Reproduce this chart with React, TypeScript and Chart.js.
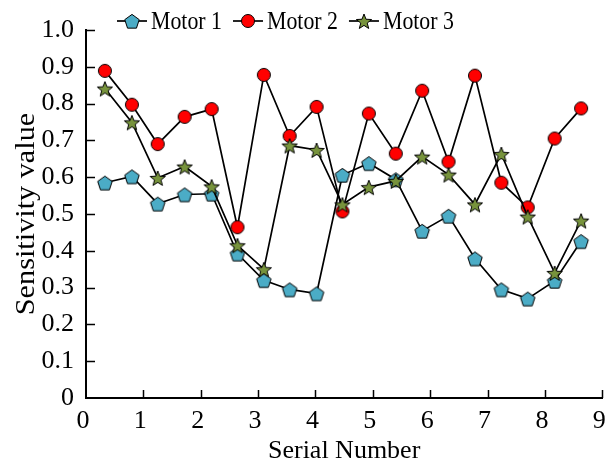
import React, { useEffect, useRef } from 'react';
import { Chart, registerables } from 'chart.js';

Chart.register(...registerables);

const FONT = "'Liberation Serif', 'Times New Roman', serif";

const seriesNames = ['Motor 1', 'Motor 2', 'Motor 3'];
const serialX = [0.33, 0.8, 1.25, 1.72, 2.19, 2.64, 3.1, 3.55, 4.02, 4.47, 4.93, 5.4, 5.86, 6.32, 6.78, 7.24, 7.7, 8.17, 8.63];
const motor1 = [0.585, 0.602, 0.528, 0.553, 0.555, 0.392, 0.32, 0.295, 0.284, 0.606, 0.638, 0.594, 0.454, 0.495, 0.379, 0.295, 0.27, 0.318, 0.426];
const motor2 = [0.889, 0.797, 0.69, 0.764, 0.785, 0.464, 0.878, 0.712, 0.791, 0.507, 0.773, 0.664, 0.835, 0.642, 0.876, 0.585, 0.518, 0.705, 0.787];
const motor3 = [0.841, 0.749, 0.598, 0.629, 0.575, 0.415, 0.35, 0.686, 0.674, 0.526, 0.573, 0.59, 0.656, 0.607, 0.526, 0.663, 0.493, 0.34, 0.482];
const xTickValues = [0, 1, 2, 3, 4, 5, 6, 7, 8, 9];
const yTickValues = [0, 0.1, 0.2, 0.3, 0.4, 0.5, 0.6, 0.7, 0.8, 0.9, 1.0];
const xTitle = 'Serial Number';
const yTitle = 'Sensitivity value';

const markerColors = ['#4bacc6', '#ff0000', '#77933c'];
const markerKinds = ['pentagon', 'circle', 'star'];

function makeMarker(kind: string, fill: string): HTMLCanvasElement {
  const c = document.createElement('canvas');
  const size = 20;
  c.width = size;
  c.height = size;
  const g = c.getContext('2d')!;
  const cx = size / 2;
  const cy = size / 2;
  g.beginPath();
  if (kind === 'circle') {
    g.arc(cx, cy, 6.5, 0, Math.PI * 2);
  } else if (kind === 'pentagon') {
    for (let k = 0; k < 5; k++) {
      const a = -Math.PI / 2 + (k * 2 * Math.PI) / 5;
      const px = cx + 7.6 * Math.cos(a);
      const py = cy + 1 + 7.6 * Math.sin(a);
      if (k === 0) g.moveTo(px, py);
      else g.lineTo(px, py);
    }
  } else {
    for (let k = 0; k < 10; k++) {
      const r = k % 2 === 0 ? 8 : 3.4;
      const a = -Math.PI / 2 + (k * Math.PI) / 5;
      const px = cx + r * Math.cos(a);
      const py = cy + 1 + r * Math.sin(a);
      if (k === 0) g.moveTo(px, py);
      else g.lineTo(px, py);
    }
  }
  g.closePath();
  g.fillStyle = fill;
  g.fill();
  g.lineWidth = 1;
  g.strokeStyle = '#000';
  g.stroke();
  return c;
}

export default function App() {
  const ref = useRef<HTMLCanvasElement>(null);

  useEffect(() => {
    document.body.style.margin = '0';
    const canvas = ref.current!;
    const markers = markerKinds.map((k, i) => makeMarker(k, markerColors[i]));
    const seriesValues = [motor1, motor2, motor3];

    const datasets = seriesNames.map((name, i) => ({
      label: name,
      data: serialX.map((x, j) => ({ x, y: seriesValues[i][j] })),
      borderColor: '#000',
      backgroundColor: markerColors[i],
      borderWidth: 1.7,
      pointStyle: markers[i] as any,
      pointRadius: 6,
      tension: 0,
      fill: false,
      order: 3 - i,
    }));

    const decorPlugin = {
      id: 'decor',
      afterDraw(chart: any) {
        const ctx = chart.ctx as CanvasRenderingContext2D;
        const xs = chart.scales.x;
        const ys = chart.scales.y;
        const area = chart.chartArea;
        ctx.save();
        // inward tick marks
        ctx.strokeStyle = '#000';
        ctx.lineWidth = 1.5;
        ctx.beginPath();
        xTickValues.forEach((v) => {
          if (v === 0) return;
          const px = Math.round(xs.getPixelForValue(v)) + 0.5;
          ctx.moveTo(px, area.bottom);
          ctx.lineTo(px, area.bottom - 8);
        });
        yTickValues.forEach((v) => {
          if (v === 0) return;
          const py = Math.round(ys.getPixelForValue(v)) + 0.5;
          ctx.moveTo(area.left, py);
          ctx.lineTo(area.left + 9, py);
        });
        ctx.stroke();

        // legend (condensed serif text)
        const hx = 0.84;
        ctx.font = `26px ${FONT}`;
        ctx.textBaseline = 'alphabetic';
        ctx.textAlign = 'left';
        ctx.fillStyle = '#000';
        let lx = area.left + 31;
        const ly = 21;
        seriesNames.forEach((name, i) => {
          ctx.beginPath();
          ctx.moveTo(lx, ly);
          ctx.lineTo(lx + 30, ly);
          ctx.lineWidth = 1.7;
          ctx.strokeStyle = '#000';
          ctx.stroke();
          const m = markers[i];
          ctx.drawImage(m, lx + 15 - m.width / 2, ly - m.height / 2);
          const tx = lx + 34;
          ctx.save();
          ctx.translate(tx, 29);
          ctx.scale(hx, 1);
          ctx.fillText(name, 0, 0);
          ctx.restore();
          lx = tx + ctx.measureText(name).width * hx + 11;
        });

        // x title
        ctx.font = `26px ${FONT}`;
        ctx.textAlign = 'center';
        ctx.fillText(xTitle, (area.left + area.right) / 2, 458);

        // y title
        ctx.save();
        ctx.translate(34, (area.top + area.bottom) / 2);
        ctx.rotate(-Math.PI / 2);
        ctx.scale(1.12, 1);
        ctx.font = `27px ${FONT}`;
        ctx.textAlign = 'center';
        ctx.textBaseline = 'alphabetic';
        ctx.fillText(yTitle, 0, 0);
        ctx.restore();

        ctx.restore();
      },
    };

    const chart = new Chart(canvas, {
      type: 'line',
      data: { datasets: datasets as any },
      options: {
        animation: false,
        responsive: false,
        layout: { padding: { top: 30, right: 7, left: 0, bottom: 0 } },
        plugins: {
          legend: { display: false },
          tooltip: { enabled: false },
        },
        scales: {
          x: {
            type: 'linear',
            min: 0,
            max: 9,
            afterBuildTicks: (s: any) => {
              s.ticks = xTickValues.map((v) => ({ value: v }));
            },
            afterFit: (s: any) => {
              s.height = 64;
            },
            ticks: {
              color: '#000',
              font: { family: FONT, size: 26 },
              padding: 0,
              labelOffset: -3,
              maxRotation: 0,
              autoSkip: false,
              callback: (v: any) => String(v),
            },
            grid: { display: false },
            border: { display: true, color: '#000', width: 2 },
          },
          y: {
            type: 'linear',
            min: 0,
            max: 1,
            afterBuildTicks: (s: any) => {
              s.ticks = yTickValues.map((v) => ({ value: v }));
            },
            afterFit: (s: any) => {
              s.width = 86;
            },
            ticks: {
              color: '#000',
              font: { family: FONT, size: 26 },
              padding: 4,
              autoSkip: false,
              callback: (v: any) => (Number(v) === 0 ? '0' : Number(v).toFixed(1)),
            },
            grid: { display: false },
            border: { display: true, color: '#000', width: 2 },
          },
        },
      },
      plugins: [decorPlugin],
    });

    return () => chart.destroy();
  }, []);

  return (
    <div style={{ width: 610, height: 462 }}>
      <canvas ref={ref} width={610} height={462} style={{ display: 'block' }} />
    </div>
  );
}
